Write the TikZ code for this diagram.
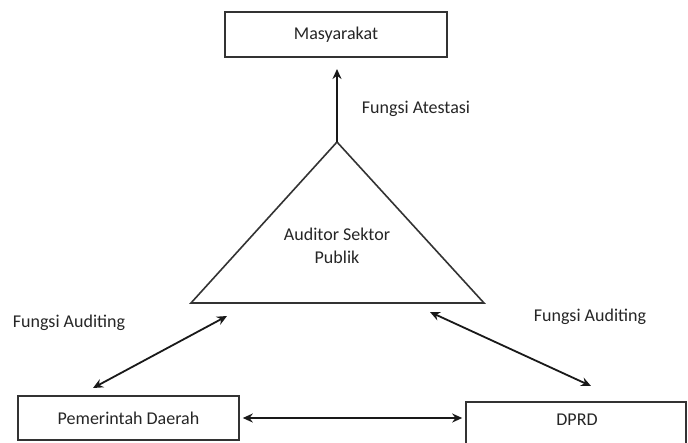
\documentclass[tikz,border=0pt]{standalone}
\usepackage{fontspec}
\setmainfont{Carlito}
\usetikzlibrary{arrows.meta}
\begin{document}
\begin{tikzpicture}[x=1pt,y=-1pt,
  every node/.style={font=\fontsize{18}{23}\selectfont, text=black!85},
  boxnode/.style={draw=black!80, line width=1.6pt, rectangle, inner sep=0pt},
  lbl/.style={inner sep=0pt},
  conn/.style={line width=1.8pt, black!90, arrows={-Stealth[length=10pt,width=9pt]}},
  dconn/.style={line width=1.8pt, black!90, arrows={Stealth[length=10pt,width=9pt]-Stealth[length=10pt,width=9pt]}}
]
\useasboundingbox[fill=white] (0,0) rectangle (688,442);
% boxes
\node[boxnode, minimum width=222pt, minimum height=45pt] (mas) at (336,34.5) {Masyarakat};
\node[boxnode, minimum width=221pt, minimum height=44pt] (pem) at (128.5,418) {Pemerintah Daerah};
\node[boxnode, minimum width=220pt, minimum height=44pt] (dprd) at (576,424) {};
\node[lbl] (dprdtxt) at (577,420) {DPRD};
% triangle
\coordinate (tA) at (337,142);
\coordinate (tL) at (191,303);
\coordinate (tR) at (484,303);
\draw[line width=1.6pt, black!80, line join=miter] (tA) -- (tL) -- (tR) -- cycle;
\node[lbl, align=center] (aud) at (337,246) {Auditor Sektor\\Publik};
% connector end points
\coordinate (atTip) at (337,69);
\coordinate (l1) at (227,316);
\coordinate (l2) at (93,388);
\coordinate (r1) at (430,312);
\coordinate (r2) at (591,386);
% connectors
\draw[conn] (tA) -- (atTip);
\draw[dconn] (l1) -- (l2);
\draw[dconn] (r1) -- (r2);
\draw[dconn, shorten <=3pt, shorten >=3pt] (pem.east) -- (pem.east -| dprd.west);
% labels
\node[lbl] (fa) at (416,109) {Fungsi Atestasi};
\node[lbl] (fl) at (69,323) {Fungsi Auditing};
\node[lbl] (fr) at (590,317) {Fungsi Auditing};
\end{tikzpicture}
\end{document}
